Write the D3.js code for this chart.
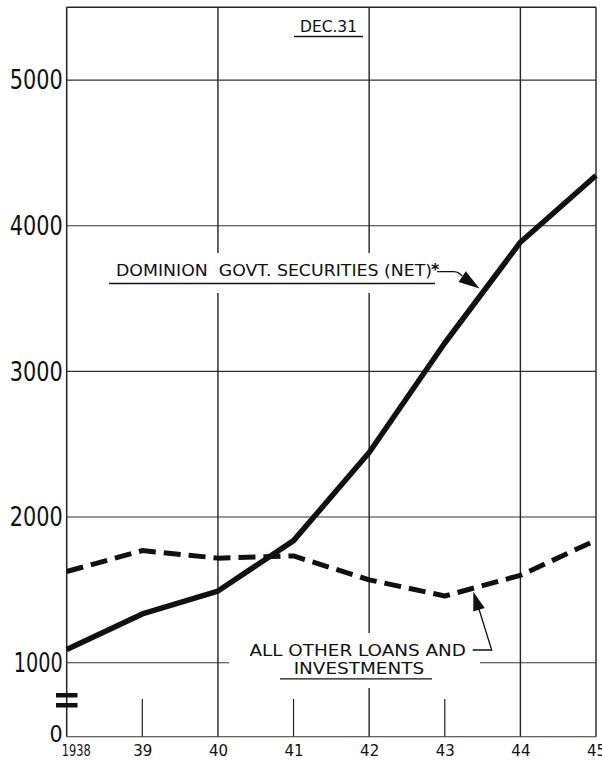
<!DOCTYPE html>
<html>
<head>
<meta charset="utf-8">
<script src="https://cdn.jsdelivr.net/npm/d3@7"></script>
<style>
html,body{margin:0;padding:0;background:#fff;}
svg{display:block;}
</style>
</head>
<body>
<svg id="chart" width="602" height="761"></svg>
<script>
// ---- data ----
const years = [1938, 1939, 1940, 1941, 1942, 1943, 1944, 1945];
const dominionGovt = [1090, 1335, 1492, 1838, 2443, 3195, 3887, 4345];
const otherLoans = [1626, 1770, 1718, 1733, 1569, 1458, 1600, 1841];
const yTicks = [0, 1000, 2000, 3000, 4000, 5000];
const gridYears = [1940, 1942, 1944];
const minorYears = [1939, 1941, 1943];
const xTickLabels = ["1938", "39", "40", "41", "42", "43", "44", "45"];
const dominionLabel = "DOMINION  GOVT. SECURITIES (NET)";
const otherLabel = ["ALL OTHER LOANS AND", "INVESTMENTS"];
const dateLabel = "DEC.31";

// ---- layout ----
const svg = d3.select("#chart");
const ink = "#111";
const x = d3.scaleLinear().domain([1938, 1945]).range([66.7, 596]);
// broken scale: 0–1000 compressed
const y = d3.scaleLinear().domain([0, 1000, 5500]).range([736.7, 662.7, 7.3]);
const xL = x(1938), xR = x(1945), yT = y(5500), y0 = y(0);

const g = svg.append("g");

// horizontal gridlines
yTicks.filter(v => v >= 2000).forEach(v => {
  g.append("line").attr("x1", xL).attr("x2", xR).attr("y1", y(v)).attr("y2", y(v))
    .attr("stroke", "#333").attr("stroke-width", 1.1);
});
// 1000 gridline interrupted by label
[[xL, 229], [480, xR]].forEach(([a, b]) => {
  g.append("line").attr("x1", a).attr("x2", b).attr("y1", y(1000)).attr("y2", y(1000))
    .attr("stroke", "#333").attr("stroke-width", 1.1);
});

// vertical gridlines (with gaps around labels)
const vSegs = {
  1940: [[yT, 253], [293, y0]],
  1942: [[yT, 253], [293, 633], [688, y0]],
  1944: [[yT, y0]]
};
gridYears.forEach(yr => {
  vSegs[yr].forEach(([a, b]) => {
    g.append("line").attr("x1", x(yr)).attr("x2", x(yr)).attr("y1", a).attr("y2", b)
      .attr("stroke", "#222").attr("stroke-width", 1.4);
  });
});
// short ticks for odd years
minorYears.forEach(yr => {
  g.append("line").attr("x1", x(yr)).attr("x2", x(yr)).attr("y1", 699).attr("y2", y0)
    .attr("stroke", "#222").attr("stroke-width", 1.2);
});

// frame: top, right, left axis, bottom
g.append("line").attr("x1", xL).attr("x2", xR).attr("y1", yT).attr("y2", yT).attr("stroke", "#222").attr("stroke-width", 1.5);
g.append("line").attr("x1", xR).attr("x2", xR).attr("y1", yT).attr("y2", y0).attr("stroke", "#222").attr("stroke-width", 1.4);
g.append("line").attr("x1", xL).attr("x2", xL).attr("y1", yT).attr("y2", y0).attr("stroke", "#222").attr("stroke-width", 1.5);
g.append("line").attr("x1", xL).attr("x2", xR).attr("y1", y0).attr("y2", y0).attr("stroke", "#333").attr("stroke-width", 1.1);

// axis break marks
[693, 703].forEach(yy => {
  g.append("rect").attr("x", 56).attr("y", yy).attr("width", 21.5).attr("height", 4.5).attr("fill", ink);
});

// y axis labels
const yAxis = d3.axisLeft(y).tickValues(yTicks).tickSize(0).tickPadding(4).tickFormat(d3.format("d"));
const ya = svg.append("g").attr("transform", `translate(${xL},0)`).call(yAxis);
ya.select(".domain").remove();
ya.selectAll("text").attr("font-family", "'Liberation Sans Narrow', 'DejaVu Sans Condensed', sans-serif")
  .attr("font-size", d => d === 0 ? 23 : 27).attr("fill", ink)
  .attr("dy", d => d === 0 ? "0.2em" : "0.32em")
  .attr("textLength", d => d === 0 ? null : (d === 1000 ? 49 : 53))
  .attr("lengthAdjust", "spacingAndGlyphs");

// x axis labels
const xAxis = d3.axisBottom(x).tickValues(years).tickSize(0).tickPadding(9)
  .tickFormat((d, i) => xTickLabels[i]);
const xa = svg.append("g").attr("transform", `translate(0,${y0})`).call(xAxis);
xa.select(".domain").remove();
xa.selectAll("text").attr("font-family", "'DejaVu Sans', sans-serif").attr("font-size", 15).attr("fill", ink)
  .attr("dx", (d, i) => i === 0 ? 9 : 0)
  .attr("textLength", (d, i) => i === 0 ? 29 : null)
  .attr("lengthAdjust", "spacingAndGlyphs");

// lines
const line = d3.line().x((d, i) => x(years[i])).y(d => y(d));
svg.append("path").datum(otherLoans).attr("d", line)
  .attr("fill", "none").attr("stroke", ink).attr("stroke-width", 5)
  .attr("stroke-dasharray", "17,8").attr("stroke-linejoin", "round");
svg.append("path").datum(dominionGovt).attr("d", line)
  .attr("fill", "none").attr("stroke", ink).attr("stroke-width", 5.5)
  .attr("stroke-linejoin", "round").attr("stroke-linecap", "butt");

// labels
const labFont = "'DejaVu Sans', sans-serif";
svg.append("text").attr("x", 300).attr("y", 31.7).text(dateLabel)
  .attr("font-family", labFont).attr("font-size", 15).attr("fill", ink)
  .attr("textLength", 57).attr("lengthAdjust", "spacingAndGlyphs");
svg.append("line").attr("x1", 294).attr("x2", 363).attr("y1", 36.5).attr("y2", 36.5).attr("stroke", ink).attr("stroke-width", 1.6);

svg.append("text").attr("x", 116).attr("y", 276).text(dominionLabel)
  .attr("font-family", labFont).attr("font-size", 15).attr("fill", ink)
  .attr("textLength", 316).attr("lengthAdjust", "spacingAndGlyphs").style("white-space", "pre");
svg.append("line").attr("x1", 109).attr("x2", 435).attr("y1", 283.5).attr("y2", 283.5).attr("stroke", ink).attr("stroke-width", 1.3);
svg.append("text").attr("x", 431).attr("y", 275).text("*")
  .attr("font-family", labFont).attr("font-size", 16).attr("font-weight", "bold").attr("fill", ink);
// leader with arrow (dominion)
svg.append("path").attr("d", "M437,271.7 L454,271.7 Q459,272 462,276")
  .attr("fill", "none").attr("stroke", ink).attr("stroke-width", 1.3);
(function arrow(tx, ty, fx, fy, len, hw) {
  const dx = tx - fx, dy = ty - fy, L = Math.hypot(dx, dy), ux = dx / L, uy = dy / L;
  const bx = tx - ux * len, by = ty - uy * len;
  svg.append("path").attr("d", `M${tx},${ty} L${bx - uy * hw},${by + ux * hw} L${bx + uy * hw},${by - ux * hw} Z`).attr("fill", ink);
})(479.5, 288.5, 459, 274.5, 21, 6.5);

svg.append("text").attr("x", 249.5).attr("y", 655.5).text(otherLabel[0])
  .attr("font-family", labFont).attr("font-size", 15).attr("fill", ink)
  .attr("textLength", 216.5).attr("lengthAdjust", "spacingAndGlyphs");
svg.append("text").attr("x", 293.7).attr("y", 673.5).text(otherLabel[1])
  .attr("font-family", labFont).attr("font-size", 15).attr("fill", ink)
  .attr("textLength", 130.5).attr("lengthAdjust", "spacingAndGlyphs");
svg.append("line").attr("x1", 280).attr("x2", 432).attr("y1", 678.8).attr("y2", 678.8).attr("stroke", ink).attr("stroke-width", 1.3);
// leader with arrow (other)
svg.append("path").attr("d", "M472.7,650 L491.7,650 L478,606")
  .attr("fill", "none").attr("stroke", ink).attr("stroke-width", 1.3);
(function () {
  const tx = 473.3, ty = 591.7, fx = 491.7, fy = 650, len = 19, hw = 6;
  const dx = tx - fx, dy = ty - fy, L = Math.hypot(dx, dy), ux = dx / L, uy = dy / L;
  const bx = tx - ux * len, by = ty - uy * len;
  svg.append("path").attr("d", `M${tx},${ty} L${bx - uy * hw},${by + ux * hw} L${bx + uy * hw},${by - ux * hw} Z`).attr("fill", ink);
})();
</script>
</body>
</html>
